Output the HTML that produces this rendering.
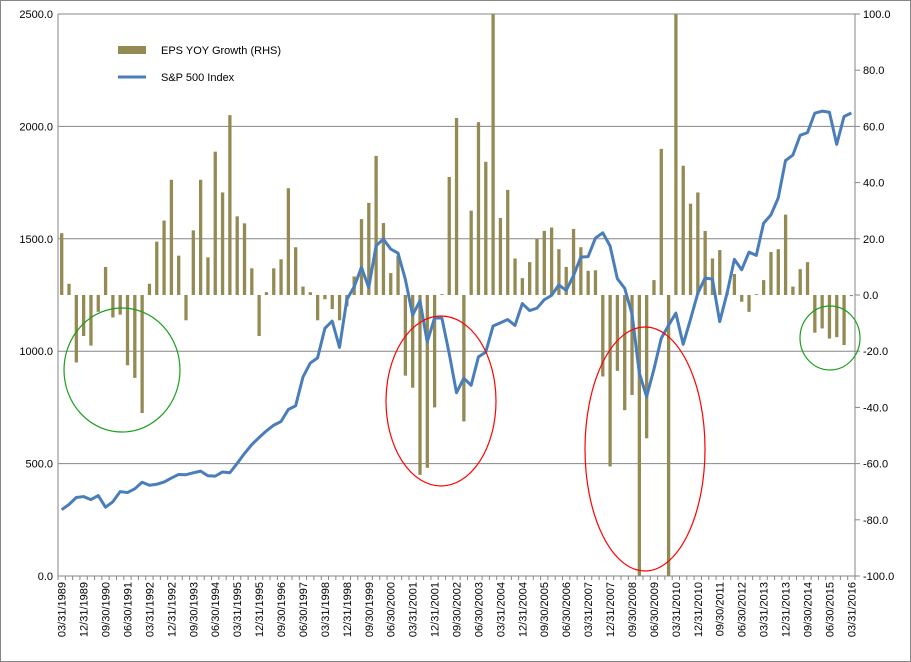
<!DOCTYPE html>
<html><head><meta charset="utf-8">
<style>
body{margin:0;background:#fff;}
svg{display:block;font-family:"Liberation Sans",sans-serif;}
</style></head>
<body>
<svg id="chart" width="911" height="662" viewBox="0 0 911 662" xmlns="http://www.w3.org/2000/svg">
<rect x="0.5" y="0.5" width="910" height="661" fill="#fff" stroke="#868686"/>
<g id="grid"></g>
<g id="bars"></g>
<g id="axes"></g>
<path id="spline" fill="none" stroke="#4A7EBB" stroke-width="3" stroke-linejoin="round"/>
<g id="legend">
  <rect x="118" y="46" width="28" height="8" fill="#948A54"/>
  <text x="161" y="54" font-size="11" fill="#000">EPS YOY Growth (RHS)</text>
  <line x1="118" y1="77" x2="146" y2="77" stroke="#4A7EBB" stroke-width="3"/>
  <text x="161" y="81" font-size="11" fill="#000">S&amp;P 500 Index</text>
</g>
<g>
  <ellipse cx="122" cy="370" rx="58" ry="62" fill="none" stroke="#1AA01A" stroke-width="1.2"/>
  <ellipse cx="441" cy="401" rx="55" ry="85" fill="none" stroke="#FF0000" stroke-width="1.2"/>
  <ellipse cx="645" cy="449" rx="60" ry="122" fill="none" stroke="#FF0000" stroke-width="1.2"/>
  <ellipse cx="830" cy="338" rx="30" ry="32" fill="none" stroke="#1AA01A" stroke-width="1.2"/>
</g>
</svg>
<script>
const epsGrowth = [22,4,-24,-14.6,-18,-6,10,-8,-7,-25,-29.5,-42,4,19,26.5,41,14,-9,23,41,13.4,51,36.5,64,28,25.5,9.5,-14.6,1,9.5,12.7,38,17,3,1,-9,-1.5,-5,-9,-4,6.6,27,32.8,49.5,25.6,7.8,14,-28.7,-33,-64,-61.5,-40,0.3,42,63,-45,30,61.5,47.4,120,27.4,37.4,13,6,11.7,20,22.8,24,16.3,10,23.5,17,8.6,8.8,-29,-61,-27,-41,-35.6,-110,-51,5.3,52,-110,120,46,32.5,36.5,22.8,13,16,1,7.5,-2.4,-6,0.3,5.3,15.3,16.3,28.6,3,9.2,11.7,-13.4,-11.9,-15.5,-15,-17.8,-0.4];
const sp500 = [294.9,317.98,349.15,353.4,339.94,358.02,306.05,330.22,375.22,371.16,387.86,417.09,403.69,408.14,417.8,435.71,451.67,450.53,458.93,466.45,445.77,444.27,462.69,459.27,500.71,544.75,584.41,615.93,645.5,670.63,687.31,740.74,757.12,885.14,947.28,970.43,1101.75,1133.84,1017.01,1229.23,1286.37,1372.71,1282.71,1469.25,1498.58,1454.6,1436.51,1320.28,1160.33,1224.42,1040.94,1148.08,1147.39,989.82,815.28,879.82,848.18,974.5,995.97,1111.92,1126.21,1140.84,1114.58,1211.92,1180.59,1191.33,1228.81,1248.29,1294.83,1270.2,1335.85,1418.3,1420.86,1503.35,1526.75,1468.36,1322.7,1280,1166.36,903.25,797.87,919.32,1057.08,1115.1,1169.43,1030.71,1141.2,1257.64,1325.83,1320.64,1131.42,1257.6,1408.47,1362.16,1440.67,1426.19,1569.19,1606.28,1681.55,1848.36,1872.34,1960.23,1972.29,2058.9,2067.89,2063.11,1920.03,2043.94,2059.74];
const leftTicks = [0,500,1000,1500,2000,2500];
const rightTicks = [-100,-80,-60,-40,-20,0,20,40,60,80,100];
const quarterEnds = ["03/31","06/30","09/30","12/31"];
const startYear = 1989;

const NS="http://www.w3.org/2000/svg";
const X0=58,X1=855,Y0=576,Y1=14;
const n=sp500.length, step=(X1-X0)/n;
const xC=i=>X0+(i+0.5)*step;
const yL=v=>Y0-(v/2500)*(Y0-Y1);
const yR=v=>Y0-((Math.max(-100,Math.min(100,v))+100)/200)*(Y0-Y1);
function mk(tag,attrs,parent){const e=document.createElementNS(NS,tag);for(const k in attrs)e.setAttribute(k,attrs[k]);parent.appendChild(e);return e;}
const grid=document.getElementById('grid'),axes=document.getElementById('axes'),bars=document.getElementById('bars');
leftTicks.forEach(v=>{
  const l=mk('line',{x1:X0,x2:X1,y1:yL(v),y2:yL(v),stroke:'#868686','stroke-width':1},grid);
  
  
  const t=mk('text',{x:X0-5,y:yL(v)+4,'font-size':11,'text-anchor':'end',fill:'#000'},axes);
  t.textContent=v.toFixed(1);
  
  
});
rightTicks.forEach(v=>{
  const tk=mk('line',{x1:X1,x2:X1+5,y1:yR(v),y2:yR(v),stroke:'#868686'},axes);
  
  
  const t=mk('text',{x:X1+8,y:yR(v)+4,'font-size':11,fill:'#000'},axes);
  t.textContent=v.toFixed(1);
  
  
});
epsGrowth.forEach((v,i)=>{
  const y0=yR(0),y=yR(v);
  const r=mk('rect',{x:xC(i)-1.6,y:Math.min(y,y0),width:3.3,height:Math.max(0.6,Math.abs(y-y0)),fill:'#948A54'},bars);
  
  
});
let d='';sp500.forEach((v,i)=>{d+=(i?'L':'M')+xC(i).toFixed(2)+' '+yL(v).toFixed(2);});
document.getElementById('spline').setAttribute('d',d);
[[X0,Y1,X0,Y0],[X1,Y1,X1,Y0],[X0,Y0,X1,Y0]].forEach(a=>{
  const l=mk('line',{x1:a[0],y1:a[1],x2:a[2],y2:a[3],stroke:'#868686'},axes);
  
  
});
for(let i=0;i<=n;i++){
  const x=X0+i*step;
  const tk=mk('line',{x1:x,x2:x,y1:Y0,y2:Y0+4,stroke:'#868686'},axes);
  
  
}
for(let i=0;i<n;i+=3){
  const lbl=quarterEnds[i%4]+'/'+(startYear+Math.floor(i/4));
  const x=xC(i)+4,y=Y0+6;
  const t=mk('text',{x:x,y:y,'font-size':11,'text-anchor':'end',fill:'#000',transform:`rotate(-90 ${x} ${y})`},axes);
  t.textContent=lbl;
  
  
}
</script>
</body></html>
